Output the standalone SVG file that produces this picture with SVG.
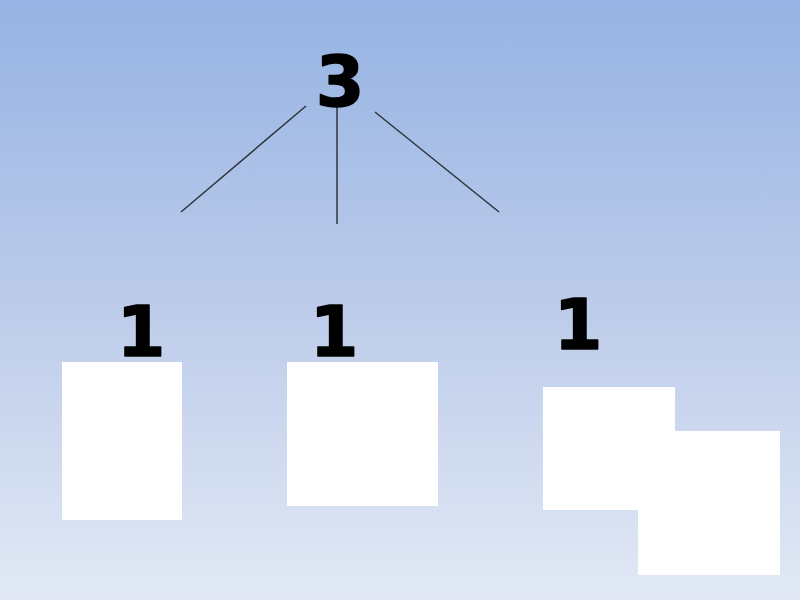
<svg xmlns="http://www.w3.org/2000/svg" width="800" height="600" viewBox="0 0 800 600">
<defs>
<linearGradient id="bg" x1="0" y1="0" x2="0" y2="1">
<stop offset="0" stop-color="#95b3e3"/>
<stop offset="0.5" stop-color="#bccbea"/>
<stop offset="1" stop-color="#e2e9f5"/>
</linearGradient>
<style>
.num{font-family:"DejaVu Sans","Liberation Sans",sans-serif;font-weight:bold;font-size:70px;fill:#000;stroke:#000;stroke-width:1.5;stroke-linejoin:round;text-anchor:middle}
.box{fill:#fff}
.conn{stroke:#2f343d;stroke-width:1.5;fill:none}
</style>
</defs>
<rect width="800" height="600" fill="url(#bg)"/>
<g id="connectors">
<line class="conn" x1="306" y1="106" x2="181" y2="212"/>
<line class="conn" x1="337" y1="107" x2="337" y2="224"/>
<line class="conn" x1="375" y1="112" x2="499" y2="212"/>
</g>
<g id="top"><text class="num" x="340" y="106">3</text></g>
<g id="n1"><text class="num" x="141" y="356">1</text><rect class="box" x="62" y="362" width="120" height="158"/></g>
<g id="n2"><text class="num" x="334" y="356">1</text><rect class="box" x="287" y="362" width="151" height="144"/></g>
<g id="n3"><text class="num" x="578" y="349">1</text><rect class="box" x="543" y="387" width="132" height="123"/><rect class="box" x="638" y="431" width="142" height="144"/></g>
</svg>
